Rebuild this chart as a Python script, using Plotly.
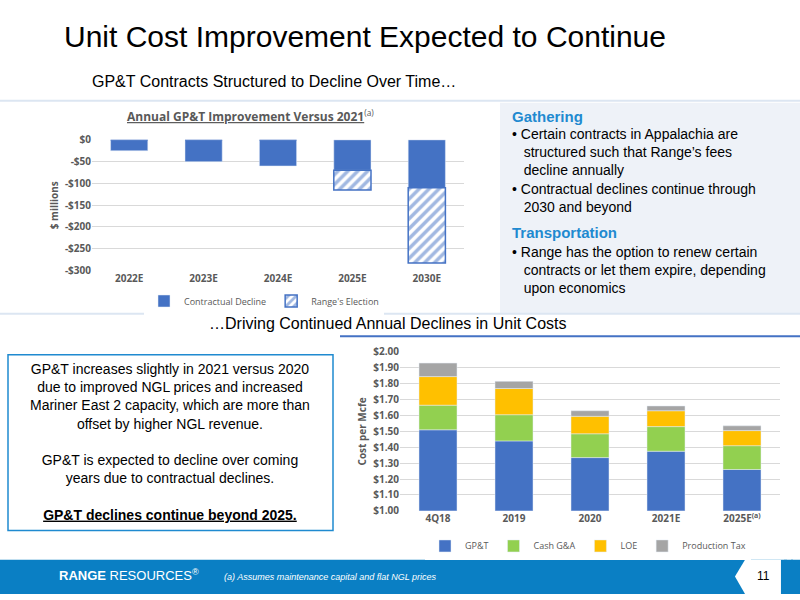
import plotly.graph_objects as go

# top chart: annual GP&T improvement vs 2021 ($ millions)
years = ['2022E', '2023E', '2024E', '2025E', '2030E']
contractual = [-25, -50, -60, -70, -110]
election = [0, 0, 0, -45, -173]
top_ticks = [0, -50, -100, -150, -200, -250, -300]
top_ticktext = ['$0', '-$50', '-$100', '-$150', '-$200', '-$250', '-$300']

# bottom chart: cost per Mcfe
periods = ['4Q18', '2019', '2020', '2021E', '2025E<sup>(a)</sup>']
gpt = [1.51, 1.44, 1.335, 1.375, 1.26]
cash_ga = [0.155, 0.165, 0.15, 0.155, 0.15]
loe = [0.18, 0.165, 0.11, 0.10, 0.095]
prod_tax = [0.085, 0.045, 0.035, 0.03, 0.03]

BLUE = '#4472C4'
FONT = 'Liberation Sans'
CAL = 'Open Sans'
GREY = '#595959'

fig = go.Figure()
fig.add_bar(x=years, y=contractual, name='Contractual Decline', marker=dict(color=BLUE),
            xaxis='x', yaxis='y', legend='legend', width=0.5)
fig.add_bar(x=years, y=election, name="Range's Election", xaxis='x', yaxis='y', legend='legend',
            width=0.5,
            marker=dict(color='white', line=dict(color=BLUE, width=1.5),
                        pattern=dict(shape='/', fgcolor=BLUE, bgcolor='white', size=7, solidity=0.5)))

for name, vals, col in [('GP&T', gpt, BLUE), ('Cash G&A', cash_ga, '#92D050'),
                        ('LOE', loe, '#FFC000'), ('Production Tax', prod_tax, '#A5A5A5')]:
    fig.add_bar(x=periods, y=vals, name=name, marker=dict(color=col), width=0.5,
                xaxis='x2', yaxis='y2', legend='legend2')

tickf = dict(family=CAL, size=10, color=GREY, weight='bold')
fig.update_layout(
    width=800, height=600, barmode='relative', paper_bgcolor='white', plot_bgcolor='white',
    margin=dict(l=0, r=0, t=0, b=0), font=dict(family=FONT),
    xaxis=dict(domain=[0.115, 0.58], anchor='y', tickfont=tickf, ticks=''),
    yaxis=dict(domain=[0.552, 0.775], anchor='x', range=[-300, 0], tickvals=top_ticks, ticktext=top_ticktext,
               gridcolor='#D9D9D9', zeroline=False, tickfont=tickf,
               title=dict(text='$ millions', font=tickf, standoff=4)),
    xaxis2=dict(domain=[0.5, 0.975], anchor='y2', tickfont=tickf, ticks=''),
    yaxis2=dict(domain=[0.142, 0.413], anchor='x2', range=[1.0, 2.0], dtick=0.1, tickprefix='$',
                tickformat='.2f', gridcolor='#D9D9D9', zeroline=False, tickfont=tickf,
                title=dict(text='Cost per Mcfe', font=tickf, standoff=4)),
    legend=dict(orientation='h', x=0.33, xanchor='center', y=0.5, yanchor='middle',
                font=dict(family=CAL, size=9, color=GREY), traceorder='normal'),
    legend2=dict(orientation='h', x=0.735, xanchor='center', y=0.082, yanchor='middle',
                 font=dict(family=CAL, size=9, color=GREY), traceorder='normal'),
)

# page furniture, given in pixels
shapes = [
    dict(type='rect', x0=500, x1=800, y0=97, y1=313, fillcolor='#EEF2F8'),
    dict(type='line', x0=0, x1=800, y0=95, y1=95, line=dict(color='#DCE6F2', width=2)),
    dict(type='line', x0=340, x1=800, y0=336, y1=336, line=dict(color='#4472C4', width=2)),
    dict(type='line', x0=0, x1=800, y0=313, y1=313, line=dict(color='#DCE6F2', width=2)),
    dict(type='rect', x0=8, x1=333, y0=355, y1=535, fillcolor='white', line=dict(color='#1F8AD0', width=1.5)),
    dict(type='rect', x0=0, x1=800, y0=565, y1=600, fillcolor='#0A7FC4'),
    dict(type='path', pts=[(745, 565), (781, 565), (781, 600), (745, 600), (735, 582)], fillcolor='white'),
    dict(type='rect', x0=784, x1=787, y0=565, y1=600, fillcolor='#0A7FC4'),
    dict(type='rect', x0=791, x1=793, y0=565, y1=600, fillcolor='#0A7FC4'),
]
conv = []
for s in shapes:
    s = dict(s)
    s.setdefault('line', dict(width=0))
    if s['type'] == 'path':
        pts = s.pop('pts')
        s['path'] = 'M ' + ' L '.join(f'{x / 800:.4f},{1 - y / 600:.4f}' for x, y in pts) + ' Z'
    else:
        s['x0'] /= 800
        s['x1'] /= 800
        s['y0'] = 1 - s['y0'] / 600
        s['y1'] = 1 - s['y1'] / 600
    conv.append(dict(s, xref='paper', yref='paper', layer='below'))
fig.update_layout(shapes=conv)


def note(px, py, text, size, color='black', xanchor='left', yanchor='top', align='left', family=FONT):
    fig.add_annotation(x=px / 800, y=1 - py / 600, xref='paper', yref='paper', text=text, showarrow=False,
                       xanchor=xanchor, yanchor=yanchor, align=align,
                       font=dict(family=family, size=size, color=color))


note(62, 10, 'Unit Cost Improvement Expected to Continue', 30)
note(90, 64, 'GP&T Contracts Structured to Decline Over Time…', 16)
note(207, 312, '…Driving Continued Annual Declines in Unit Costs', 16)
note(250, 99, '<b><u>Annual GP&T Improvement Versus 2021</u></b><sup>(a)</sup>', 12, GREY,
     xanchor='center', family=CAL)
note(510, 100, '<b>Gathering</b>', 15, '#1F8AD0')
note(510, 119, '• Certain contracts in Appalachia are<br>   structured such that Range’s fees<br>'
     '   decline annually<br>• Contractual declines continue through<br>   2030 and beyond', 14)
note(510, 219, '<b>Transportation</b>', 15, '#1F8AD0')
note(510, 240, '• Range has the option to renew certain<br>   contracts or let them expire, depending<br>'
     '   upon economics', 14)
note(170, 359, 'GP&T increases slightly in 2021 versus 2020<br>due to improved NGL prices and increased<br>'
     'Mariner East 2 capacity, which are more than<br>offset by higher NGL revenue.<br><br>'
     'GP&T is expected to decline over coming<br>years due to contractual declines.<br><br>'
     '<b><u>GP&T declines continue beyond 2025.</u></b>', 14, xanchor='center', align='center')
note(57, 581, '<b>RANGE</b> RESOURCES<sup>®</sup>', 13, 'white', yanchor='middle')
note(222, 583, '<i>(a) Assumes maintenance capital and flat NGL prices</i>', 9, 'white', yanchor='middle')
note(763, 582, '11', 12, 'black', xanchor='center', yanchor='middle')

fig.write_html('out.html', config=dict(displayModeBar=False),
               post_script="document.body.style.margin='0';"
                           "document.documentElement.style.overflow='hidden';"
                           "document.body.style.overflow='hidden';")
